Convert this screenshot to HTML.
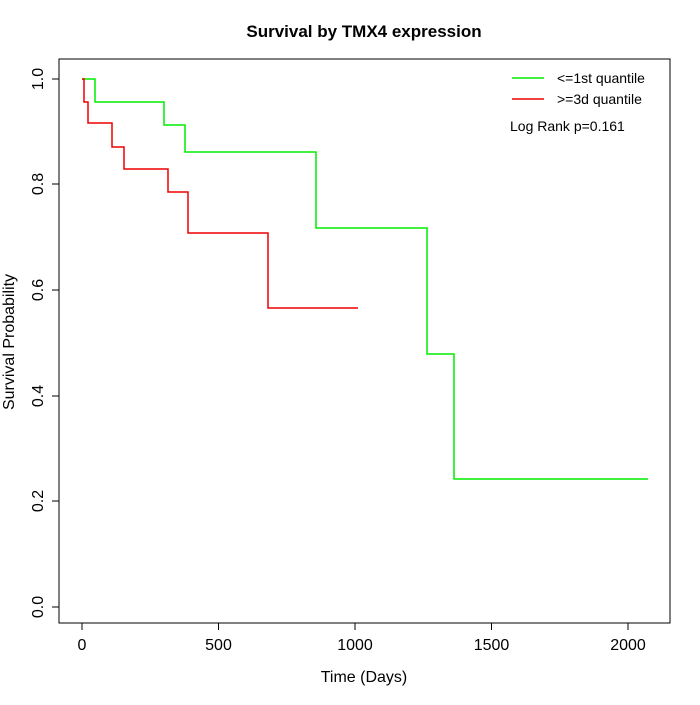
<!DOCTYPE html>
<html><head><meta charset="utf-8"><style>body{margin:0;background:#fff}</style></head><body>
<svg width="700" height="700" xmlns="http://www.w3.org/2000/svg" font-family="Liberation Sans, sans-serif">
<rect width="700" height="700" fill="#fff"/>
<text x="364" y="37" text-anchor="middle" font-size="17" font-weight="bold">Survival by TMX4 expression</text>
<rect x="59" y="59" width="611" height="564" fill="none" stroke="#000"/>
<g stroke="#000">
<line x1="82" y1="623" x2="628" y2="623"/>
<line x1="82" y1="623" x2="82" y2="630"/><line x1="218.5" y1="623" x2="218.5" y2="630"/><line x1="355" y1="623" x2="355" y2="630"/><line x1="491.5" y1="623" x2="491.5" y2="630"/><line x1="628" y1="623" x2="628" y2="630"/>
<line x1="59" y1="79" x2="59" y2="607"/>
<line x1="52" y1="607" x2="59" y2="607"/><line x1="52" y1="501" x2="59" y2="501"/><line x1="52" y1="396" x2="59" y2="396"/><line x1="52" y1="290" x2="59" y2="290"/><line x1="52" y1="184" x2="59" y2="184"/><line x1="52" y1="79" x2="59" y2="79"/>
</g>
<g font-size="16" text-anchor="middle">
<text x="82" y="650">0</text><text x="218.5" y="650">500</text><text x="355" y="650">1000</text><text x="491.5" y="650">1500</text><text x="628" y="650">2000</text>
<text x="364" y="682">Time (Days)</text>
<g transform="translate(43,0)">
<text transform="translate(0,607) rotate(-90)">0.0</text>
<text transform="translate(0,501) rotate(-90)">0.2</text>
<text transform="translate(0,396) rotate(-90)">0.4</text>
<text transform="translate(0,290) rotate(-90)">0.6</text>
<text transform="translate(0,184) rotate(-90)">0.8</text>
<text transform="translate(0,79) rotate(-90)">1.0</text>
</g>
<text transform="translate(14,342) rotate(-90)">Survival Probability</text>
</g>
<polyline fill="none" stroke="#00ee00" stroke-width="1.5" points="82,79 95,79 95,102 164,102 164,125 185,125 185,152 316,152 316,228 427,228 427,354 454,354 454,479 648,479"/>
<polyline fill="none" stroke="#ee0000" stroke-width="1.5" points="82,79 84,79 84,102 88,102 88,123 112,123 112,147 124,147 124,169 168,169 168,192 188,192 188,233 268,233 268,308 358,308"/>
<line x1="512" y1="78" x2="544" y2="78" stroke="#00ee00" stroke-width="1.5"/>
<line x1="512" y1="99" x2="544" y2="99" stroke="#ee0000" stroke-width="1.5"/>
<g font-size="14"><text x="557" y="83">&lt;=1st quantile</text><text x="557" y="104">&gt;=3d quantile</text><text x="510" y="131">Log Rank p=0.161</text></g>
</svg>
</body></html>
